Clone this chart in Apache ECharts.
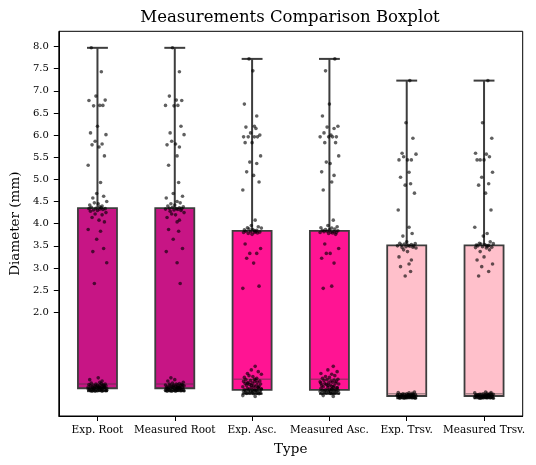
<!DOCTYPE html>
<html>
<head>
<meta charset="utf-8">
<script src="https://cdn.jsdelivr.net/npm/echarts@6/dist/echarts.min.js"></script>
<style>html,body{margin:0;padding:0;background:#fff}#c{width:536px;height:465px}</style>
</head>
<body>
<div id="c"></div>
<script>
const categories = ['Exp. Root', 'Measured Root', 'Exp. Asc.', 'Measured Asc.', 'Exp. Trsv.', 'Measured Trsv.'];
const whiskerLow = [0.22, 0.22, 0.16, 0.16, 0.06, 0.06];
const q1 = [0.285, 0.285, 0.25, 0.25, 0.11, 0.11];
const median = [0.38, 0.38, 0.49, 0.49, 0.16, 0.16];
const q3 = [4.35, 4.35, 3.84, 3.84, 3.51, 3.51];
const whiskerHigh = [7.97, 7.97, 7.72, 7.72, 7.23, 7.23];
const yTickLabels = [2.0, 2.5, 3.0, 3.5, 4.0, 4.5, 5.0, 5.5, 6.0, 6.5, 7.0, 7.5, 8.0];

const rootPts = [7.97, 7.43, 6.88, 6.79, 6.78, 6.67, 6.67, 6.66, 6.20, 6.05, 6.01, 5.86, 5.80, 5.78, 5.73, 5.53, 5.32, 4.93, 4.68, 4.62, 4.58, 4.50, 4.47, 4.45, 4.42, 4.40, 4.38, 4.37, 4.36,
  4.35, 4.34, 4.34, 4.33, 4.32, 4.31, 4.30, 4.28, 4.25, 4.22, 4.20, 4.14, 4.08, 4.04, 3.87, 3.83, 3.65, 3.44, 3.37, 3.12, 2.65, 0.52, 0.48, 0.45, 0.42,
  0.40, 0.39, 0.38, 0.38, 0.37, 0.36, 0.36, 0.35, 0.35, 0.34, 0.34, 0.33, 0.33, 0.32, 0.32, 0.31, 0.31, 0.30, 0.30, 0.29, 0.29, 0.28, 0.28, 0.28, 0.27, 0.27, 0.26, 0.26, 0.26, 0.25, 0.25, 0.25, 0.24, 0.24, 0.24, 0.23, 0.23, 0.23, 0.22, 0.22, 0.22, 0.30, 0.31, 0.27, 0.29, 0.33, 0.35, 0.26, 0.24, 0.28];
const ascPts = [7.72, 7.45, 6.70, 6.43, 6.20, 6.18, 6.15, 6.05, 6.00, 5.96, 5.96, 5.96, 5.96, 5.83, 5.83, 5.53, 5.39, 5.36, 5.17, 5.09, 4.94, 4.76, 4.08, 3.96, 3.93, 3.91, 3.90, 3.88, 3.87, 3.86, 3.85,
  3.84, 3.83, 3.82, 3.82, 3.81, 3.80, 3.80, 3.79, 3.78, 3.76, 3.54, 3.44, 3.33, 3.33, 3.22, 3.11, 2.59, 2.54, 0.78, 0.70, 0.66, 0.62, 0.60, 0.57, 0.55, 0.53, 0.51,
  0.49, 0.48, 0.47, 0.46, 0.45, 0.44, 0.43, 0.42, 0.41, 0.40, 0.39, 0.38, 0.37, 0.36, 0.35, 0.34, 0.33, 0.32, 0.31, 0.30, 0.29, 0.28, 0.27, 0.26, 0.25, 0.25, 0.24, 0.24, 0.23, 0.23, 0.22, 0.22, 0.21, 0.21, 0.20, 0.20, 0.19, 0.19, 0.18, 0.18, 0.17, 0.17, 0.16, 0.16, 0.12, 0.10, 0.35, 0.30, 0.40, 0.27];
const trsvPts = [7.23, 6.28, 5.93, 5.59, 5.57, 5.51, 5.44, 5.44, 5.44, 5.16, 5.05, 4.90, 4.87, 4.69, 4.31, 3.92, 3.78, 3.72, 3.59, 3.56, 3.55, 3.54, 3.53, 3.52,
  3.51, 3.50, 3.50, 3.49, 3.48, 3.47, 3.46, 3.45, 3.41, 3.37, 3.25, 3.18, 3.09, 3.03, 2.92, 2.82, 0.20, 0.19, 0.18, 0.17,
  0.16, 0.16, 0.15, 0.15, 0.15, 0.14, 0.14, 0.14, 0.13, 0.13, 0.13, 0.12, 0.12, 0.12, 0.11, 0.11, 0.11, 0.10, 0.10, 0.10, 0.09, 0.09, 0.09, 0.08, 0.08, 0.08, 0.07, 0.07, 0.07, 0.06, 0.06, 0.06, 0.12, 0.10, 0.14, 0.08, 0.13, 0.11, 0.09, 0.15];
const pointsByCategory = [rootPts, rootPts, ascPts, ascPts, trsvPts, trsvPts];
const boxColors = ['#C71585', '#C71585', '#FF1493', '#FF1493', '#FFC0CB', '#FFC0CB'];

// horizontal jitter pattern (category units), position only
const jitter = [-0.08, 0.05, -0.02, 0.10, -0.11, 0.03, 0.07, -0.05, 0.00, -0.09, 0.11, -0.03, 0.06, -0.07, 0.02, 0.09, -0.12, 0.04, -0.01, 0.08, -0.06, 0.12, -0.04, 0.01, -0.10, 0.06, 0.03];

const boxData = categories.map((c, i) => [i, whiskerLow[i], q1[i], median[i], q3[i], whiskerHigh[i]]);
const scatterData = [];
pointsByCategory.forEach((pts, k) => {
  pts.forEach((v, j) => {
    scatterData.push([k + jitter[(j + k * 11) % jitter.length], v]);
  });
});

const FONT = 'DejaVu Serif';
const EDGE = '#3d3d3d';

function renderBox(params, api) {
  const i = api.value(0);
  const lo = api.coord([i, api.value(1)]);
  const b1 = api.coord([i, api.value(2)]);
  const md = api.coord([i, api.value(3)]);
  const b3 = api.coord([i, api.value(4)]);
  const hi = api.coord([i, api.value(5)]);
  const cw = api.size([1, 0])[0];
  const bw = cw * 0.505;
  const capw = cw * 0.27;
  const x = lo[0];
  const lineStyle = {stroke: EDGE, lineWidth: 2};
  return {
    type: 'group',
    children: [
      {type: 'line', shape: {x1: x, y1: b1[1], x2: x, y2: lo[1]}, style: lineStyle},
      {type: 'line', shape: {x1: x - capw / 2, y1: lo[1], x2: x + capw / 2, y2: lo[1]}, style: lineStyle},
      {type: 'line', shape: {x1: x, y1: b3[1], x2: x, y2: hi[1]}, style: lineStyle},
      {type: 'line', shape: {x1: x - capw / 2, y1: hi[1], x2: x + capw / 2, y2: hi[1]}, style: lineStyle},
      {type: 'rect', shape: {x: x - bw / 2, y: b3[1], width: bw, height: b1[1] - b3[1]},
        style: {fill: boxColors[i], stroke: EDGE, lineWidth: 1.8}},
      {type: 'line', shape: {x1: x - bw / 2 + 1, y1: md[1], x2: x + bw / 2 - 1, y2: md[1]},
        style: {stroke: 'rgba(60,60,60,0.45)', lineWidth: 1.6}}
    ]
  };
}

const chart = echarts.init(document.getElementById('c'), null, {renderer: 'canvas'});
chart.setOption({
  animation: false,
  backgroundColor: '#fff',
  title: {
    text: 'Measurements Comparison Boxplot',
    left: 290,
    textAlign: 'center',
    top: 0,
    padding: [9, 0, 0, 0],
    textStyle: {fontFamily: FONT, fontSize: 16.5, fontWeight: 'normal', color: '#000'}
  },
  grid: {left: 57.3, right: 13.3, top: 31.3, bottom: 49, show: true, borderColor: '#000', borderWidth: 1, backgroundColor: 'transparent'},
  xAxis: [{
    type: 'category',
    data: categories,
    boundaryGap: true,
    name: 'Type',
    nameLocation: 'middle',
    nameGap: 26,
    nameTextStyle: {fontFamily: FONT, fontSize: 13.5, color: '#000'},
    axisLine: {show: true, onZero: false, lineStyle: {color: '#000', width: 1}},
    axisTick: {show: true, alignWithLabel: true, length: 5, lineStyle: {color: '#000'}},
    axisLabel: {fontFamily: FONT, fontSize: 10.5, color: '#000', margin: 9, interval: 0},
    splitLine: {show: false}
  }, {
    type: 'value',
    min: -0.5,
    max: 5.5,
    show: false,
    axisLine: {onZero: false}
  }],
  yAxis: {
    type: 'value',
    min: -0.341,
    max: 8.343,
    name: 'Diameter (mm)',
    nameLocation: 'middle',
    nameRotate: 90,
    nameGap: 36,
    nameTextStyle: {fontFamily: FONT, fontSize: 13.5, color: '#000'},
    axisLine: {show: true, onZero: false, lineStyle: {color: '#000', width: 1}},
    axisTick: {show: true, length: 5, lineStyle: {color: '#000'}, customValues: yTickLabels},
    axisLabel: {fontFamily: FONT, fontSize: 10, color: '#000', margin: 10, customValues: yTickLabels,
      formatter: v => Number(v).toFixed(1)},
    splitLine: {show: false}
  },
  series: [{
    type: 'custom',
    xAxisIndex: 0,
    renderItem: renderBox,
    encode: {x: 0, y: [1, 2, 3, 4, 5]},
    data: boxData,
    z: 2
  }, {
    type: 'scatter',
    xAxisIndex: 1,
    symbolSize: 3.6,
    itemStyle: {color: 'rgba(0,0,0,0.78)'},
    data: scatterData,
    z: 3
  }]
});
</script>
</body>
</html>
